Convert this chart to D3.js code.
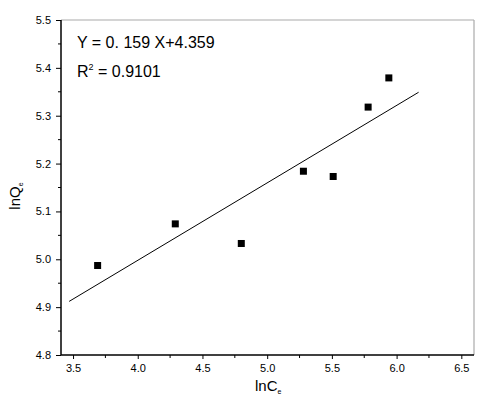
<!DOCTYPE html>
<html>
<head>
<meta charset="utf-8">
<script src="https://cdn.jsdelivr.net/npm/d3@7"></script>
<style>
  body { margin: 0; background: #fff; }
  text { font-family: "Liberation Sans", Arial, sans-serif; }
</style>
</head>
<body>
<svg width="500" height="411"></svg>
<script>
// data
var lnCe = [3.69, 4.29, 4.80, 5.28, 5.51, 5.78, 5.94];
var lnQe = [4.987, 5.074, 5.033, 5.184, 5.173, 5.318, 5.379];
var fitX = [3.47, 6.17];
var fitY = [4.912, 5.349];
var xTicks = [3.5, 4.0, 4.5, 5.0, 5.5, 6.0, 6.5];
var yTicks = [4.8, 4.9, 5.0, 5.1, 5.2, 5.3, 5.4, 5.5];
var eqText = "Y = 0. 159 X+4.359";
var r2Text = "0.9101";

var width = 500;
var height = 411;
var mLeft = 61, mRight = 474, mTop = 20, mBottom = 355;

var svg = d3.select("svg")
            .attr("width", width)
            .attr("height", height);

var xScale = d3.scaleLinear()
              .domain([3.407, 6.598])
              .range([mLeft, mRight]);

var yScale = d3.scaleLinear()
              .domain([4.8, 5.5])
              .range([mBottom, mTop]);

// gray frame on top and right
svg.append("line")
   .attr("x1", mLeft).attr("x2", mRight)
   .attr("y1", mTop).attr("y2", mTop)
   .attr("stroke", "#aaa").attr("stroke-width", 1.2);
svg.append("line")
   .attr("x1", mRight).attr("x2", mRight)
   .attr("y1", mTop).attr("y2", mBottom)
   .attr("stroke", "#aaa").attr("stroke-width", 1.2);

// minor ticks
var xMinor = d3.range(3.75, 6.5, 0.5);
var yMinor = d3.range(4.85, 5.5, 0.1);

var xAxis = d3.axisBottom(xScale)
              .tickValues(xTicks)
              .tickFormat(d3.format(".1f"))
              .tickSize(4)
              .tickPadding(5);
var yAxis = d3.axisLeft(yScale)
              .tickValues(yTicks)
              .tickFormat(d3.format(".1f"))
              .tickSize(5)
              .tickPadding(5);

var gx = svg.append("g")
   .attr("transform", "translate(0," + mBottom + ")")
   .call(xAxis);
var gy = svg.append("g")
   .attr("transform", "translate(" + mLeft + ",0)")
   .call(yAxis);

[gx, gy].forEach(function(g){
  g.select(".domain").attr("stroke", "#000").attr("stroke-width", 1.5);
  g.selectAll(".tick line").attr("stroke", "#000").attr("stroke-width", 1);
  g.selectAll(".tick text")
   .attr("font-family", "Liberation Sans, Arial, sans-serif")
   .attr("font-size", 11)
   .attr("fill", "#000");
});
gx.select(".domain").attr("d", "M" + mLeft + ",0H" + mRight);
gy.select(".domain").attr("d", "M0," + mBottom + "V" + mTop);

svg.selectAll(".xminor")
   .data(xMinor)
   .enter()
   .append("line")
   .attr("x1", function(d){ return xScale(d); })
   .attr("x2", function(d){ return xScale(d); })
   .attr("y1", mBottom)
   .attr("y2", mBottom + 3)
   .attr("stroke", "#000");

svg.selectAll(".yminor")
   .data(yMinor)
   .enter()
   .append("line")
   .attr("y1", function(d){ return yScale(d); })
   .attr("y2", function(d){ return yScale(d); })
   .attr("x1", mLeft)
   .attr("x2", mLeft - 3)
   .attr("stroke", "#000");

// fit line
svg.append("line")
   .attr("x1", xScale(fitX[0])).attr("y1", yScale(fitY[0]))
   .attr("x2", xScale(fitX[1])).attr("y2", yScale(fitY[1]))
   .attr("stroke", "#000")
   .attr("stroke-width", 1);

// points
var size = 7;
svg.selectAll("rect.pt")
   .data(lnCe)
   .enter()
   .append("rect")
   .attr("class", "pt")
   .attr("x", function(d){ return xScale(d) - size/2; })
   .attr("y", function(d, i){ return yScale(lnQe[i]) - size/2; })
   .attr("width", size)
   .attr("height", size)
   .attr("fill", "#000");

// equation
svg.append("text")
   .attr("x", 77).attr("y", 48)
   .attr("font-size", 16)
   .text(eqText);

var r2 = svg.append("text")
   .attr("x", 77).attr("y", 77)
   .attr("font-size", 16);
r2.append("tspan").text("R");
r2.append("tspan").attr("font-size", 9).attr("dy", -7).text("2");
r2.append("tspan").attr("dy", 7).text(" = " + r2Text);

// axis titles
var xt = svg.append("text")
   .attr("x", 255).attr("y", 391)
   .attr("font-size", 15);
xt.append("tspan").text("lnC");
xt.append("tspan").attr("font-size", 7).attr("dy", 3).text("e");

var yt = svg.append("text")
   .attr("transform", "translate(20,196) rotate(-90)")
   .attr("text-anchor", "middle")
   .attr("font-size", 15);
yt.append("tspan").text("lnQ");
yt.append("tspan").attr("font-size", 7).attr("dy", 3).text("e");
</script>
</body>
</html>
